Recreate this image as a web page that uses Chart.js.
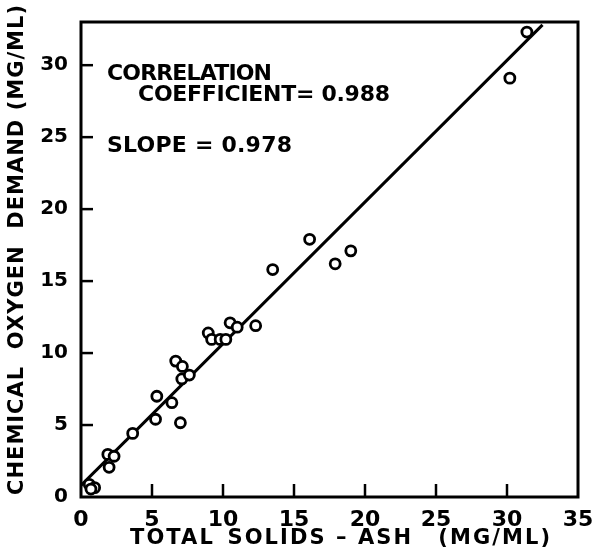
<!DOCTYPE html>
<html><head><meta charset="utf-8">
<style>html,body{margin:0;padding:0;background:#fff}#wrap{width:596px;height:552px}</style>
<script src="https://cdn.jsdelivr.net/npm/chart.js@4/dist/chart.umd.min.js"></script>
</head><body><div id="wrap"><canvas id="c" width="596" height="552"></canvas></div>
<script>
// Data
const solidsAsh = [0.58, 0.96, 0.70, 1.98, 1.89, 2.33, 3.64, 5.25, 5.34, 6.40, 7.00, 7.10, 7.63, 6.67, 7.14,
  8.96, 9.20, 9.80, 10.20, 10.50, 11.00, 12.30, 13.50, 16.10, 17.90, 19.00, 30.20, 31.40];
const oxygenDemand = [0.88, 0.65, 0.55, 2.06, 2.96, 2.83, 4.42, 5.40, 7.00, 6.55, 5.16, 8.20, 8.47, 9.44, 9.07,
  11.40, 10.95, 10.95, 10.95, 12.10, 11.80, 11.90, 15.80, 17.90, 16.20, 17.10, 29.10, 32.30];
const fitX = [0, 32.5];
const fitY = [0.8, 32.8];
const xTicks = [0, 5, 10, 15, 20, 25, 30, 35];
const yTicks = [0, 5, 10, 15, 20, 25, 30];
const xTitle = 'TOTAL\u2002SOLIDS \u2013 ASH\u2002\u2002(MG/ML)';
const yTitle = 'CHEMICAL  OXYGEN  DEMAND (MG/ML)';
const noteLines = ['CORRELATION', 'COEFFICIENT= 0.988', 'SLOPE = 0.978'];

const points = solidsAsh.map((x, i) => ({x: x, y: oxygenDemand[i]}));
const fitLine = fitX.map((x, i) => ({x: x, y: fitY[i]}));

function fitText(ctx, text, x, y, width, align) {
  ctx.letterSpacing = '0px';
  const w = ctx.measureText(text).width;
  const n = text.length;
  const sp = n > 1 ? (width - w) / (n - 1) : 0;
  ctx.letterSpacing = sp + 'px';
  ctx.textAlign = 'left';
  const total = w + sp * (n - 1);
  let startX = x;
  if (align === 'center') startX = x - total / 2;
  ctx.fillText(text, startX, y);
  ctx.letterSpacing = '0px';
}

const decor = {
  id: 'decor',
  beforeDatasetsDraw(chart) {
    const ctx = chart.ctx, a = chart.chartArea;
    const xs = chart.scales.x, ys = chart.scales.y;
    ctx.save();
    ctx.strokeStyle = '#000';
    ctx.lineWidth = 3;
    ctx.strokeRect(a.left, a.top, a.right - a.left, a.bottom - a.top);
    ctx.lineWidth = 2.5;
    xTicks.forEach(v => {
      if (v === 0 || v === 35) return;
      const px = xs.getPixelForValue(v);
      ctx.beginPath(); ctx.moveTo(px, a.bottom); ctx.lineTo(px, a.bottom - 13); ctx.stroke();
    });
    yTicks.forEach(v => {
      if (v === 0) return;
      const py = ys.getPixelForValue(v);
      ctx.beginPath(); ctx.moveTo(a.left, py); ctx.lineTo(a.left + 12, py); ctx.stroke();
    });
    ctx.restore();
  },
  afterDraw(chart) {
    const ctx = chart.ctx;
    ctx.save();
    ctx.fillStyle = '#000';
    ctx.textBaseline = 'middle';
    ctx.font = 'bold 21px "DejaVu Sans"';
    fitText(ctx, xTitle, 340, 539, 420, 'center');
    ctx.save();
    ctx.translate(18, 250);
    ctx.rotate(-Math.PI / 2);
    fitText(ctx, yTitle, 0, 0, 490, 'center');
    ctx.restore();
    ctx.font = 'bold 22px "DejaVu Sans"';
    fitText(ctx, noteLines[0], 107, 74, 165, 'left');
    fitText(ctx, noteLines[1], 138, 95, 252, 'left');
    fitText(ctx, noteLines[2], 107, 146, 185, 'left');
    ctx.restore();
  }
};

new Chart(document.getElementById('c'), {
  type: 'scatter',
  data: {
    datasets: [
      {
        data: points,
        pointRadius: 5,
        pointBorderWidth: 2.8,
        pointBackgroundColor: '#fff',
        pointBorderColor: '#000',
        showLine: false,
        order: 1
      },
      {
        type: 'line',
        data: fitLine,
        borderColor: '#000',
        borderWidth: 3,
        pointRadius: 0,
        fill: false,
        order: 2
      }
    ]
  },
  options: {
    responsive: false,
    animation: false,
    devicePixelRatio: 1,
    layout: {padding: {top: 22, right: 18, left: 0, bottom: 0}},
    plugins: {legend: {display: false}, tooltip: {enabled: false}},
    scales: {
      x: {
        type: 'linear', min: 0, max: 35,
        afterBuildTicks: s => { s.ticks = xTicks.map(v => ({value: v})); },
        afterFit: s => { s.height = 55; },
        grid: {display: false}, border: {display: false},
        ticks: {color: '#000', font: {family: 'DejaVu Sans', weight: 'bold', size: 22}, padding: 2, maxRotation: 0, autoSkip: false}
      },
      y: {
        type: 'linear', min: 0, max: 33,
        afterBuildTicks: s => { s.ticks = yTicks.map(v => ({value: v})); },
        afterFit: s => { s.width = 81; },
        grid: {display: false}, border: {display: false},
        ticks: {color: '#000', font: {family: 'DejaVu Sans', weight: 'bold', size: 20}, padding: 5, autoSkip: false}
      }
    }
  },
  plugins: [decor]
});
</script>
</body></html>
